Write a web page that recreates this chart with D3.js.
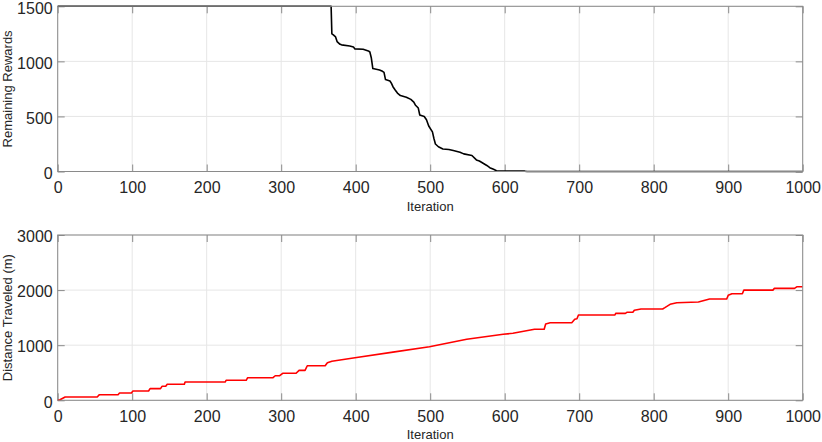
<!DOCTYPE html>
<html><head><meta charset="utf-8">
<script src="https://cdn.jsdelivr.net/npm/d3@7"></script>
<style>body{margin:0;background:#fff}svg{display:block}text{font-family:"Liberation Sans",Arial,sans-serif;fill:#262626}</style>
</head><body><svg id="c" width="822" height="442"></svg>
<script>
const rewardsIter = [0,367,368,370,373,375,379,381,392,397,399,410,417,419,421,423,432,436,438,440,446,448,450,453,456,460,468,474,478,480,484,486,492,495,498,503,505,507,511,517,525,531,540,545,556,562,566,571,576,580,585,589,595,627,630,1000];
const rewardsVal  = [1500,1500,1250,1240,1222,1180,1155,1150,1140,1130,1113,1110,1095,1085,1030,935,922,910,900,835,822,800,770,740,712,690,675,655,630,604,576,513,500,470,413,360,300,250,225,205,200,190,175,160,145,105,95,75,55,35,20,7,3,3,0,0];
const distIter = [0,3,10,53,56,81,83,99,101,122,124,138,140,145,147,170,171,225,226,253,255,289,292,298,302,320,324,332,335,359,362,368,399,450,499,549,598,611,640,653,655,661,690,694,697,699,748,749,762,764,772,774,783,812,815,822,831,860,875,898,900,905,919,921,960,962,989,992,1000];
const distVal  = [0,10,60,60,102,102,132,132,169,169,211,211,254,254,290,290,332,332,363,363,410,410,446,446,490,490,544,544,627,627,682,708,773,875,973,1107,1198,1216,1289,1289,1385,1408,1408,1470,1480,1548,1548,1578,1578,1597,1597,1633,1657,1657,1681,1742,1771,1784,1838,1838,1905,1934,1934,2000,2000,2031,2031,2060,2060];
const xTicks = [0,100,200,300,400,500,600,700,800,900,1000];
const rewardsTicks = [0,500,1000,1500];
const distTicks = [0,1000,2000,3000];

const svg = d3.select("#c");
const L = 57.7, R = 802.7;
const x = d3.scaleLinear().domain([0,1000]).range([L,R]);
const fmt = d3.format("d");

function panel(top, bottom, yMax, yTicks, xs, ys, color, ylabel, xlabelY){
  const y = d3.scaleLinear().domain([0,yMax]).range([bottom, top]);
  const g = svg.append("g");
  g.selectAll(".gx").data(xTicks).enter().append("line")
    .attr("x1",d=>x(d)).attr("x2",d=>x(d)).attr("y1",top).attr("y2",bottom)
    .attr("stroke","#e6e6e6").attr("stroke-width",1);
  g.selectAll(".gy").data(yTicks).enter().append("line")
    .attr("x1",L).attr("x2",R).attr("y1",d=>y(d)).attr("y2",d=>y(d))
    .attr("stroke","#e6e6e6").attr("stroke-width",1);
  const tk = 7;
  g.append("g").attr("transform",`translate(0,${bottom})`)
    .call(d3.axisBottom(x).tickValues(xTicks).tickSize(-tk).tickPadding(tk+3).tickFormat(fmt))
    .call(a=>{a.select(".domain").remove();a.selectAll("line").attr("stroke","#8a8a8a");
      a.selectAll("text").style("font-size","16px").attr("fill","#262626").attr("font-family","Liberation Sans, Arial, sans-serif");});
  g.append("g").attr("transform",`translate(0,${top})`)
    .call(d3.axisTop(x).tickValues(xTicks).tickSize(-tk).tickFormat(""))
    .call(a=>{a.select(".domain").remove();a.selectAll("line").attr("stroke","#8a8a8a");});
  g.append("g").attr("transform",`translate(${L},0)`)
    .call(d3.axisLeft(y).tickValues(yTicks).tickSize(-tk).tickPadding(5).tickFormat(fmt))
    .call(a=>{a.select(".domain").remove();a.selectAll("line").attr("stroke","#8a8a8a");
      a.selectAll("text").style("font-size","16px").attr("dy","0.42em").attr("fill","#262626").attr("font-family","Liberation Sans, Arial, sans-serif");});
  g.append("g").attr("transform",`translate(${R},0)`)
    .call(d3.axisRight(y).tickValues(yTicks).tickSize(-tk).tickFormat(""))
    .call(a=>{a.select(".domain").remove();a.selectAll("line").attr("stroke","#8a8a8a");});
  const data = xs.map((v,i)=>[v,ys[i]]);
  g.append("path").datum(data)
    .attr("d", d3.line().x(d=>x(d[0])).y(d=>y(d[1])))
    .attr("fill","none").attr("stroke",color).attr("stroke-width",1.6).attr("stroke-linejoin","round");
  g.append("rect").attr("x",L).attr("y",top).attr("width",R-L).attr("height",bottom-top)
    .attr("fill","none").attr("stroke","#8a8a8a").attr("stroke-width",1);
  g.append("text").attr("x",(L+R)/2).attr("y",xlabelY).attr("text-anchor","middle")
    .style("font-size","13px").text("Iteration");
  g.append("text").attr("transform",`translate(12,${(top+bottom)/2}) rotate(-90)`)
    .attr("text-anchor","middle").style("font-size","13px").text(ylabel);
}

panel(6.3, 171.5, 1500, rewardsTicks, rewardsIter, rewardsVal, "#000000", "Remaining Rewards", 211);
panel(235, 400.3, 3000, distTicks, distIter, distVal, "#ff0000", "Distance Traveled (m)", 439);
</script></body></html>
